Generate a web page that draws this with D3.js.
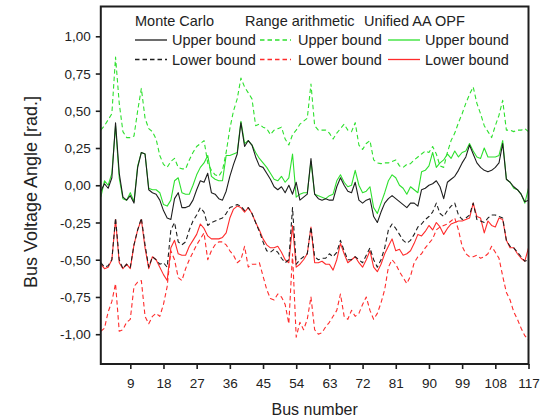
<!DOCTYPE html>
<html><head><meta charset="utf-8">
<script src="https://cdn.jsdelivr.net/npm/d3@7"></script>
<style>body{margin:0;background:#fff;} svg{display:block;font-family:"Liberation Sans",Arial,sans-serif;}</style>
</head><body><svg id="c" width="543" height="420"></svg>
<script>
// Bus numbers (categories)
const busNumbers = d3.range(1, 118);

// Monte Carlo upper bound (black solid)
const mcUpper = [-0.04,0.01,-0.02,0.05,0.42,0.08,-0.08,-0.10,-0.07,-0.12,
 0.12,0.22,0.21,-0.03,-0.05,-0.06,-0.10,-0.17,-0.22,-0.23,
 -0.09,-0.05,-0.15,-0.15,-0.14,-0.10,-0.03,0.03,0.02,0.08,
 -0.05,-0.06,-0.09,-0.10,-0.04,0.06,0.14,0.21,0.42,0.26,
 0.30,0.27,0.19,0.13,0.12,0.08,0.04,-0.01,-0.03,-0.01,
 -0.05,0.00,-0.06,0.02,-0.10,-0.08,-0.06,0.18,-0.06,-0.09,
 -0.10,-0.09,-0.10,-0.10,-0.01,0.05,0.00,-0.04,-0.05,0.02,
 -0.10,-0.12,-0.10,-0.09,-0.21,-0.25,-0.18,-0.12,-0.09,-0.07,
 -0.09,-0.11,-0.13,-0.15,-0.12,-0.12,-0.14,-0.03,-0.02,0.00,
 0.01,0.03,-0.01,-0.09,0.02,0.04,0.06,0.10,0.15,0.19,
 0.27,0.21,0.15,0.12,0.10,0.09,0.10,0.12,0.15,0.28,
 0.04,0.02,-0.01,-0.03,-0.06,-0.11,-0.10];
// Monte Carlo lower bound (black dashed)
const mcLower = [-0.52,-0.55,-0.54,-0.50,-0.22,-0.50,-0.56,-0.53,-0.55,-0.40,
 -0.30,-0.22,-0.40,-0.55,-0.48,-0.50,-0.53,-0.52,-0.55,-0.30,
 -0.25,-0.38,-0.40,-0.38,-0.30,-0.24,-0.20,-0.15,-0.18,-0.27,
 -0.25,-0.24,-0.23,-0.22,-0.19,-0.15,-0.14,-0.13,-0.14,-0.17,
 -0.15,-0.19,-0.25,-0.31,-0.38,-0.44,-0.45,-0.43,-0.45,-0.49,
 -0.52,-0.50,-0.15,-0.53,-0.50,-0.48,-0.46,-0.28,-0.48,-0.50,
 -0.49,-0.49,-0.46,-0.48,-0.45,-0.37,-0.44,-0.50,-0.50,-0.48,
 -0.50,-0.52,-0.47,-0.42,-0.50,-0.55,-0.50,-0.42,-0.30,-0.26,
 -0.29,-0.33,-0.37,-0.39,-0.37,-0.33,-0.28,-0.26,-0.23,-0.21,
 -0.18,-0.12,-0.19,-0.21,-0.17,-0.14,-0.12,-0.20,-0.23,-0.22,
 -0.20,-0.12,-0.23,-0.24,-0.25,-0.22,-0.20,-0.20,-0.21,-0.22,
 -0.37,-0.41,-0.42,-0.45,-0.48,-0.51,-0.50];
// Range arithmetic upper bound (green dashed)
const raUpper = [0.37,0.40,0.44,0.48,0.86,0.55,0.36,0.32,0.32,0.33,
 0.50,0.65,0.45,0.38,0.36,0.31,0.20,0.14,0.12,0.16,
 0.18,0.12,0.11,0.11,0.17,0.22,0.26,0.28,0.30,0.15,
 0.10,0.07,0.06,0.10,0.22,0.38,0.50,0.58,0.72,0.66,
 0.62,0.58,0.40,0.41,0.39,0.38,0.34,0.37,0.38,0.39,
 0.31,0.27,0.34,0.37,0.41,0.43,0.45,0.68,0.40,0.37,
 0.37,0.37,0.35,0.31,0.35,0.38,0.41,0.37,0.36,0.42,
 0.27,0.24,0.28,0.30,0.17,0.15,0.145,0.15,0.15,0.16,
 0.17,0.13,0.12,0.14,0.145,0.17,0.19,0.21,0.23,0.22,
 0.26,0.21,0.13,0.12,0.22,0.30,0.35,0.42,0.48,0.55,
 0.61,0.66,0.55,0.48,0.40,0.36,0.32,0.40,0.47,0.57,
 0.37,0.37,0.36,0.37,0.37,0.38,0.36];
// Range arithmetic lower bound (red dashed)
const raLower = [-0.98,-0.96,-0.85,-0.78,-0.66,-0.98,-0.97,-0.92,-0.90,-0.68,
 -0.65,-0.64,-0.88,-0.93,-0.88,-0.86,-0.88,-0.80,-0.68,-0.44,
 -0.50,-0.62,-0.64,-0.56,-0.50,-0.45,-0.40,-0.36,-0.32,-0.50,
 -0.44,-0.40,-0.38,-0.38,-0.40,-0.44,-0.47,-0.52,-0.50,-0.41,
 -0.55,-0.53,-0.53,-0.52,-0.61,-0.70,-0.76,-0.77,-0.73,-0.75,
 -0.80,-0.93,-0.46,-1.02,-0.92,-0.97,-0.90,-0.75,-0.97,-1.00,
 -0.99,-0.95,-0.92,-0.88,-0.84,-0.73,-0.88,-0.90,-0.84,-0.88,
 -0.86,-0.80,-0.75,-0.84,-0.90,-0.86,-0.79,-0.70,-0.55,-0.50,
 -0.53,-0.58,-0.62,-0.66,-0.61,-0.52,-0.48,-0.46,-0.42,-0.39,
 -0.36,-0.30,-0.28,-0.27,-0.26,-0.24,-0.22,-0.30,-0.41,-0.46,
 -0.48,-0.48,-0.47,-0.49,-0.48,-0.46,-0.41,-0.45,-0.49,-0.61,
 -0.72,-0.77,-0.85,-0.90,-0.96,-1.01,-1.04];
// Unified AA OPF upper bound (green solid)
const aaUpper = [-0.08,0.03,0.00,0.08,0.40,0.05,-0.09,-0.10,-0.05,-0.11,
 0.13,0.22,0.21,-0.02,-0.03,-0.03,-0.05,-0.13,-0.14,-0.10,
 0.03,0.05,-0.05,-0.06,-0.06,0.00,0.07,0.12,0.15,0.20,
 0.06,0.04,0.03,0.03,0.20,0.20,0.21,0.22,0.43,0.28,
 0.30,0.27,0.22,0.18,0.15,0.12,0.08,0.04,0.03,0.06,
 0.02,0.05,0.21,-0.08,-0.06,-0.05,-0.05,0.16,-0.06,-0.07,
 -0.08,-0.09,-0.07,-0.06,0.03,0.07,0.02,-0.01,0.00,0.10,
 0.00,-0.05,-0.04,-0.01,-0.15,-0.19,-0.12,-0.05,0.03,0.07,
 0.05,0.00,-0.02,-0.06,-0.01,-0.03,-0.05,0.09,0.10,0.13,
 0.22,0.12,0.15,0.17,0.21,0.18,0.23,0.19,0.22,0.23,
 0.28,0.23,0.19,0.18,0.25,0.19,0.19,0.19,0.20,0.30,
 0.04,0.02,-0.02,-0.03,-0.06,-0.12,-0.02];
// Unified AA OPF lower bound (red solid)
const aaLower = [-0.53,-0.56,-0.55,-0.50,-0.23,-0.52,-0.56,-0.53,-0.56,-0.40,
 -0.30,-0.23,-0.42,-0.56,-0.48,-0.50,-0.55,-0.60,-0.64,-0.42,
 -0.37,-0.46,-0.47,-0.47,-0.41,-0.37,-0.33,-0.26,-0.29,-0.34,
 -0.36,-0.36,-0.36,-0.35,-0.32,-0.22,-0.16,-0.14,-0.15,-0.18,
 -0.15,-0.19,-0.25,-0.30,-0.36,-0.40,-0.42,-0.42,-0.41,-0.45,
 -0.50,-0.52,-0.27,-0.55,-0.53,-0.50,-0.46,-0.28,-0.52,-0.52,
 -0.51,-0.53,-0.53,-0.57,-0.50,-0.39,-0.46,-0.52,-0.50,-0.48,
 -0.52,-0.55,-0.50,-0.44,-0.55,-0.58,-0.53,-0.46,-0.41,-0.36,
 -0.44,-0.43,-0.47,-0.46,-0.44,-0.39,-0.33,-0.34,-0.31,-0.27,
 -0.30,-0.25,-0.28,-0.33,-0.29,-0.26,-0.25,-0.24,-0.24,-0.23,
 -0.22,-0.12,-0.21,-0.22,-0.32,-0.24,-0.27,-0.28,-0.22,-0.23,
 -0.37,-0.42,-0.42,-0.46,-0.49,-0.51,-0.42];

const xTickValues = [9,18,27,36,45,54,63,72,81,90,99,108,117];
const yTickValues = [-1,-0.75,-0.5,-0.25,0,0.25,0.5,0.75,1];
const methodNames = ["Monte Carlo","Range arithmetic","Unified AA OPF"];
const boundNames = ["Upper bound","Lower bound"];
const xTitle = "Bus number";
const yTitle = "Bus Voltage Angle [rad.]";

const BLACK = "#1e1e1e", GREEN = "#2ee02e", RED = "#ff2b2b";
const series = [
  {values: raUpper, color: GREEN, dash: "4.5,3"},
  {values: raLower, color: RED, dash: "4.5,3"},
  {values: aaUpper, color: GREEN, dash: null},
  {values: aaLower, color: RED, dash: null},
  {values: mcUpper, color: BLACK, dash: null},
  {values: mcLower, color: BLACK, dash: "4.5,3"}
];

const L = 100.8, R = 528.5, T = 6.5, B = 364;
const svg = d3.select("#c");
const x = d3.scaleLinear().domain([1, 117]).range([L, R]);
const y = d3.scaleLinear().domain([-1.2, 1.2]).range([B, T]);

svg.append("defs").append("clipPath").attr("id","clip")
  .append("rect").attr("x", L).attr("y", T).attr("width", R - L).attr("height", B - T);

const line = d3.line().x((d, i) => x(busNumbers[i])).y(d => y(d));
const g = svg.append("g").attr("clip-path", "url(#clip)");
series.forEach(s => {
  g.append("path").datum(s.values)
    .attr("d", line).attr("fill", "none")
    .attr("stroke", s.color).attr("stroke-width", 1.1)
    .attr("stroke-dasharray", s.dash).attr("stroke-linejoin", "round");
});

// axes
const fmt = v => (v < 0 ? "-" : "") + Math.abs(v).toFixed(2).replace(".", ",");
const xAxis = svg.append("g").attr("transform", `translate(0,${B})`)
  .call(d3.axisBottom(x).tickValues(xTickValues).tickFormat(d3.format("d")).tickSize(5).tickSizeOuter(0));
const yAxis = svg.append("g").attr("transform", `translate(${L},0)`)
  .call(d3.axisLeft(y).tickValues(yTickValues).tickFormat(fmt).tickSize(5).tickSizeOuter(0));
[xAxis, yAxis].forEach(a => {
  a.select(".domain").remove();
  a.selectAll(".tick line").attr("stroke", BLACK).attr("stroke-width", 1.6);
  a.selectAll(".tick text").attr("fill", "#222").style("font-size", "13.5px")
   .style("font-family", '"Liberation Sans",Arial,sans-serif');
});
xAxis.selectAll(".tick text").attr("dy", "0").attr("y", 24);
yAxis.selectAll(".tick text").attr("x", -10).attr("dy", "0.34em");

// frame
svg.append("rect").attr("x", L).attr("y", T).attr("width", R - L).attr("height", B - T)
  .attr("fill", "none").attr("stroke", BLACK).attr("stroke-width", 2);

// titles
svg.append("text").attr("x", (L + R) / 2).attr("y", 415).attr("text-anchor", "middle")
  .attr("fill", "#222").style("font-size", "16px").text(xTitle);
svg.append("text").attr("transform", "translate(37,192) rotate(-90)").attr("text-anchor", "middle")
  .attr("fill", "#222").style("font-size", "18px").text(yTitle);

// legend
const lg = svg.append("g").attr("fill", "#222").style("font-size", "14.5px");
const headX = [135, 245, 364];
methodNames.forEach((m, i) => lg.append("text").attr("x", headX[i]).attr("y", 26).text(m));
const sampleX = [[135, 167], [260, 291], [388, 420]];
const textX = [172, 298, 425];
const rowY = [40, 59.5];
const legendStyle = [
  [{c: BLACK, d: null}, {c: GREEN, d: "4.5,3"}, {c: GREEN, d: null}],
  [{c: BLACK, d: "4.5,3"}, {c: RED, d: "4.5,3"}, {c: RED, d: null}]
];
boundNames.forEach((b, r) => {
  methodNames.forEach((m, i) => {
    const st = legendStyle[r][i];
    lg.append("line").attr("x1", sampleX[i][0]).attr("x2", sampleX[i][1])
      .attr("y1", rowY[r]).attr("y2", rowY[r])
      .attr("stroke", st.c).attr("stroke-width", 1.3).attr("stroke-dasharray", st.d);
    lg.append("text").attr("x", textX[i]).attr("y", rowY[r] + 5).text(b);
  });
});
</script></body></html>
